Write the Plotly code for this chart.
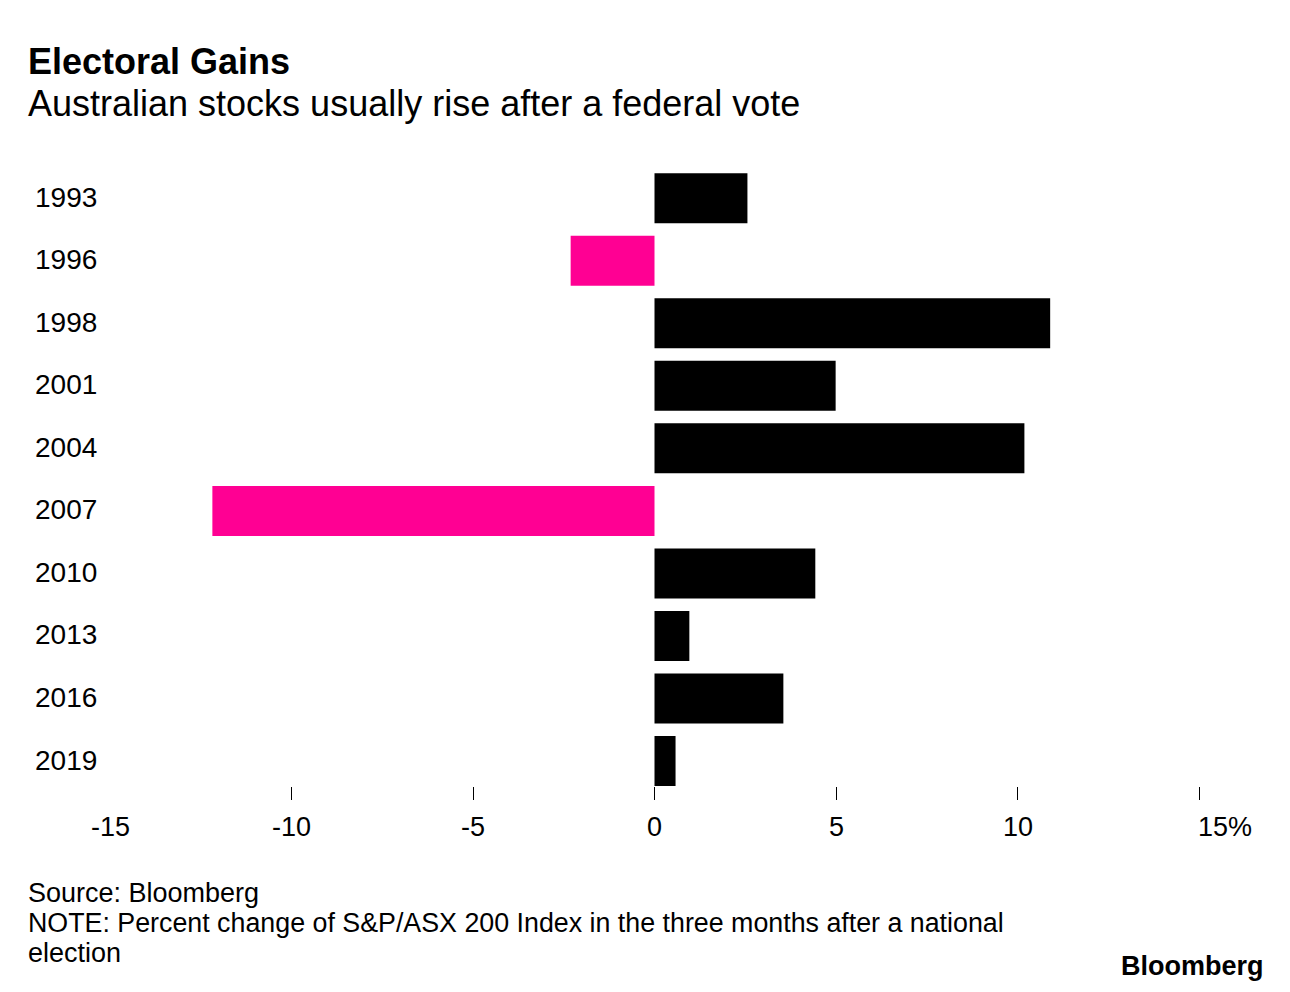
import plotly.graph_objects as go

years = ["1993", "1996", "1998", "2001", "2004", "2007", "2010", "2013", "2016", "2019"]
changes = [2.56, -2.31, 10.9, 4.99, 10.19, -12.18, 4.43, 0.96, 3.55, 0.58]
x_tick_vals = [-15, -10, -5, 0, 5, 10, 15]
x_tick_text = ["-15", "-10", "-5", "0", "5", "10", "15%"]

POS = "#000000"
NEG = "#FF0093"
FONT = "Liberation Sans, Arial, sans-serif"

OFF = 8  # page body margin
W, H = 1290 - OFF, 992 - OFF
L, R, T, B = 110 - OFF, 91, 167 - OFF, 206
pw = W - L - R
ph = H - T - B

colors = [POS if v >= 0 else NEG for v in changes]

fig = go.Figure(go.Bar(
    x=changes, y=years, orientation="h",
    marker=dict(color=colors, line=dict(width=0)),
    width=0.8, hoverinfo="skip",
))

fig.update_layout(
    width=W, height=H,
    margin=dict(l=L, r=R, t=T, b=B),
    plot_bgcolor="white", paper_bgcolor="white",
    showlegend=False,
    font=dict(family=FONT, color="black"),
    xaxis=dict(range=[-15, 15], tickvals=[-10, -5, 0, 5, 10, 15], ticktext=[""] * 6,
               ticks="outside", ticklen=13, tickwidth=1, tickcolor="black",
               showgrid=False, zeroline=False, showline=False, fixedrange=True),
    yaxis=dict(categoryorder="array", categoryarray=years, range=[9.4, -0.5],
               showticklabels=False, showgrid=False, zeroline=False, showline=False,
               ticks=""),
)


def px_x(px):
    return (px - OFF - L) / pw


def px_y(py):
    return 1 - (py - OFF - T) / ph


ann = []
# year labels, centered
row_top, row_step = 197, (760 - 197) / 9
for i, yr in enumerate(years):
    ann.append(dict(x=px_x(66), y=px_y(row_top + i * row_step), xref="paper", yref="paper",
                    text=yr, showarrow=False, xanchor="center", yanchor="middle",
                    font=dict(size=28, family=FONT)))
# x tick labels
for v, t in zip(x_tick_vals, x_tick_text):
    a = dict(x=v, y=px_y(827), xref="x", yref="paper", text=t, showarrow=False,
             yanchor="middle", font=dict(size=27, family=FONT))
    if t.endswith("%"):
        a.update(xanchor="left", xshift=-3)
    else:
        a.update(xanchor="center")
    ann.append(a)

LX = 26
ann += [
    dict(x=px_x(LX), y=px_y(62), xref="paper", yref="paper", text="<b>Electoral Gains</b>",
         showarrow=False, xanchor="left", yanchor="middle", font=dict(size=36, family=FONT)),
    dict(x=px_x(LX), y=px_y(104), xref="paper", yref="paper",
         text="Australian stocks usually rise after a federal vote",
         showarrow=False, xanchor="left", yanchor="middle", font=dict(size=36, family=FONT)),
    dict(x=px_x(LX), y=px_y(893), xref="paper", yref="paper", text="Source: Bloomberg",
         showarrow=False, xanchor="left", yanchor="middle", font=dict(size=27, family=FONT)),
    dict(x=px_x(LX), y=px_y(923), xref="paper", yref="paper",
         text="NOTE: Percent change of S&P/ASX 200 Index in the three months after a national",
         showarrow=False, xanchor="left", yanchor="middle", font=dict(size=26.8, family=FONT)),
    dict(x=px_x(LX), y=px_y(953), xref="paper", yref="paper", text="election",
         showarrow=False, xanchor="left", yanchor="middle", font=dict(size=27, family=FONT)),
    dict(x=px_x(1266), y=px_y(966), xref="paper", yref="paper", text="<b>Bloomberg</b>",
         showarrow=False, xanchor="right", yanchor="middle", font=dict(size=27, family=FONT)),
]

fig.update_layout(annotations=ann)
fig.write_html("out.html")
